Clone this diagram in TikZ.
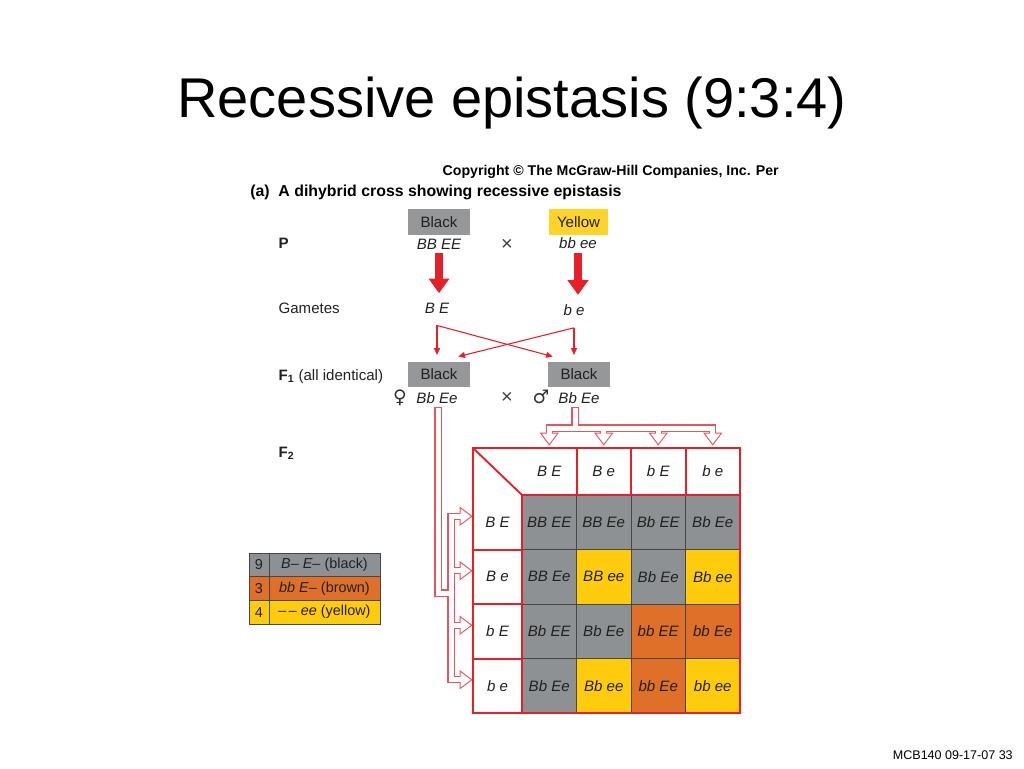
\documentclass[tikz,border=0pt]{standalone}
\usepackage{fontspec}
\setmainfont{Liberation Sans}
\newfontfamily\symfont{DejaVu Sans}
\usetikzlibrary{arrows.meta}

\definecolor{cellgray}{RGB}{142,145,147}
\definecolor{boxgray}{RGB}{150,151,153}
\definecolor{boxyellow}{RGB}{255,212,40}
\definecolor{cellyellow}{RGB}{254,204,12}
\definecolor{cellbrown}{RGB}{222,112,42}
\definecolor{linered}{RGB}{228,32,40}
\definecolor{hollowred}{RGB}{226,86,96}
\definecolor{gridline}{RGB}{70,70,70}

% hollow branched arrows, drawn in two passes
\newcommand{\hollowtrees}[1]{%
  \draw[#1] (mstem) -- (mstem |- tbar);
  \draw[#1] (t1 |- tbar) -- (t4 |- tbar);
  \foreach \t in {t1,t2,t3,t4} \draw[#1] (\t |- tbar) -- ++(0,7);
  \draw[#1] (fstem) |- (lturn);
  \draw[#1] (lbar |- v1) -- (lbar |- v4);
  \foreach \v in {v1,v2,v3,v4} \draw[#1] (lbar |- \v) -- ++(11,0);
}
\newcommand{\hollowheads}[1]{%
  \foreach \t in {t1,t2,t3,t4} \path[#1] (\t) -- ++(-7.5,-10) -- ++(15,0) -- cycle;
  \foreach \v in {v1,v2,v3,v4} \path[#1] (\v) -- ++(-10,-7.5) -- ++(0,15) -- cycle;
}

\begin{document}
\begin{tikzpicture}[x=0.75pt,y=-0.75pt,
  txt/.style={font=\fontsize{11.3}{13}\selectfont, inner sep=1pt, text=black!87},
  geno/.style={txt, font=\fontsize{11.3}{13}\selectfont\itshape},
  cross/.style={txt, font=\fontsize{15}{15}\selectfont, text=black!75},
  sex/.style={txt, font=\fontsize{14}{14}\selectfont\symfont, text=black!80},
  rowname/.style={txt, anchor=base west},
  phenobox/.style={txt, minimum width=46.5pt, minimum height=19pt, inner sep=0pt},
  cell/.style={geno, draw=gridline, line width=0.4pt, minimum size=40.9pt, inner sep=0pt},
  headcell/.style={geno, minimum width=40.9pt, minimum height=35.25pt, inner sep=0pt},
  rowcell/.style={geno, minimum width=36.75pt, minimum height=40.9pt, inner sep=0pt},
  punnett/.style={draw=linered, line width=1.4pt},
  bigarrow/.style={draw=linered, line width=6pt, -{Triangle[width=15pt,length=11pt]}},
  thinarrow/.style={draw=linered, line width=0.8pt, -{Triangle[length=5pt,width=4.5pt]}},
  hollowout/.style={draw=hollowred, line width=5.5pt, line cap=rect, line join=miter},
  hollowin/.style={draw=white, line width=3.75pt, line cap=rect, line join=miter},
  headout/.style={draw=hollowred, line width=1.6pt, line join=miter},
  headin/.style={fill=white},
  legnum/.style={txt, font=\fontsize{10.8}{12}\selectfont, draw=gridline, line width=0.5pt,
    minimum width=15pt, minimum height=17.75pt, inner sep=0pt},
  legtext/.style={legnum, minimum width=83.25pt},
]
  \fill[white] (0,0) rectangle (1024,768);
  \useasboundingbox (0,0) rectangle (1024,768);

  \path
  node[anchor=base, font=\fontsize{42}{48}\selectfont] (title) at (512,117)
    {Recessive epistasis (9:3:4)}
  node[anchor=base east, font=\fontsize{10.6}{12}\selectfont\bfseries, inner sep=0pt] (copy) at (779,175)
    {Copyright © The McGraw-Hill Companies, Inc. Per}
  node[anchor=base west, font=\fontsize{11.9}{13}\selectfont\bfseries, inner sep=0pt] (parta) at (250,196)
    {(a)\ \ A dihybrid cross showing recessive epistasis}
  node[rowname, font=\fontsize{11.3}{13}\selectfont\bfseries] (rowP) at (277,248) {P}
  node[rowname] (rowG) at (277,313) {Gametes}
  node[rowname] (rowF1) at (277,380) {\textbf{F\textsubscript{1}} (all identical)}
  node[rowname] (rowF2) at (277,457) {\textbf{F\textsubscript{2}}}
  ;

  % parents and gametes
  \path
  node[phenobox, fill=boxgray] (pblack) at (439,222) {Black}
  node[phenobox, fill=boxyellow, minimum width=44pt] (pyellow) at (578.5,222) {Yellow}
  node[geno] (pBB) at (439,244) {BB EE}
  node[cross] (ptimes) at (507,245) {×}
  node[geno] (pbb) at (578,243) {bb ee}
  node[geno] (gBE) at (437,308) {B E}
  node[geno] (gbe) at (574,310) {b e}
  node[phenobox, fill=boxgray] (fblack) at (439,374.5) {Black}
  node[phenobox, fill=boxgray] (mblack) at (579,374.5) {Black}
  node[sex] (fsym) at (400,398) {♀}
  node[geno] (fgeno) at (437,398) {Bb Ee}
  node[cross] (ftimes) at (507,398) {×}
  node[sex] (msym) at (541,397) {♂}
  node[geno] (mgeno) at (579,398) {Bb Ee}
  ;
  \coordinate (cBE) at ([yshift=-8pt]gBE.south);
  \coordinate (cbe) at ([yshift=-8pt]gbe.south);

  \draw[bigarrow, shorten <=2pt, shorten >=6pt] (pBB.south) -- (pBB.south |- gBE.north);
  \draw[bigarrow, shorten <=2pt, shorten >=6pt] (pbb.south) -- (pbb.south |- gbe.north);

  \path
  (cBE) edge[thinarrow, shorten >=5pt] (cBE |- fblack.north)
  (cBE) edge[thinarrow] ([xshift=3.75pt,yshift=3.75pt]mblack.north west)
  (cbe) edge[thinarrow, shorten >=5pt] (cbe |- mblack.north)
  (cbe) edge[thinarrow] ([xshift=-9pt,yshift=3.75pt]fblack.north east)
  ;

  % F2 square
  \foreach \row [count=\i] in {%
      {BB EE/cellgray, BB Ee/cellgray, Bb EE/cellgray, Bb Ee/cellgray},
      {BB Ee/cellgray, BB ee/cellyellow, Bb Ee/cellgray, Bb ee/cellyellow},
      {Bb EE/cellgray, Bb Ee/cellgray, bb EE/cellbrown, bb Ee/cellbrown},
      {Bb Ee/cellgray, Bb ee/cellyellow, bb Ee/cellbrown, bb ee/cellyellow}}
    \foreach \gt/\col [count=\j] in \row
      \node[cell, fill=\col] (c\i\j) at ({522+54.5*(\j-0.5)},{495+54.5*(\i-0.5)}) {\gt};
  \foreach \gm [count=\j] in {B E, B e, b E, b e}
    \node[headcell] (hd\j) at ({522+54.5*(\j-0.5)},471.5) {\gm};
  \foreach \gm [count=\i] in {B E, B e, b E, b e}
    \node[rowcell] (r\i) at (497.5,{495+54.5*(\i-0.5)}) {\gm};

  \draw[punnett] (473,448) rectangle (740,713);
  \draw[punnett] (473,448) -- (522,495) -- (740,495);
  \draw[punnett] (522,495) -- (522,713);
  \foreach \x in {577,631,686} \draw[punnett] (\x,448) -- (\x,495);
  \foreach \y in {550,604,659} \draw[punnett] (473,\y) -- (522,\y);

  % hollow arrows from the F1 parents
  \foreach \j in {1,...,4} \coordinate (t\j) at ([yshift=3pt]hd\j.north);
  \foreach \i in {1,...,4} \coordinate (v\i) at ([xshift=-1.5pt,yshift=4.5pt]r\i.west);
  \coordinate (fstem) at ([xshift=0.75pt,yshift=-4pt]fgeno.south);
  \coordinate (mstem) at ([xshift=-3pt,yshift=-4pt]mgeno.south);
  \coordinate (tbar) at (0,428);
  \coordinate (lbar) at (451,0);
  \coordinate (lturn) at (451,593);
  \hollowtrees{hollowout}
  \hollowheads{headout}
  \hollowheads{headin}
  \hollowtrees{hollowin}

  % legend
  \path
  node[legnum, fill=cellgray] (n9) at (259,564.8) {9}
  node[legtext, fill=cellgray] (l9) at (324.5,564.8) {\textit{B– E–} (black)}
  node[legnum, fill=cellbrown] (n3) at (259,588.5) {3}
  node[legtext, fill=cellbrown] (l3) at (324.5,588.5) {\textit{bb E–} (brown)}
  node[legnum, fill=cellyellow] (n4) at (259,612.2) {4}
  node[legtext, fill=cellyellow] (l4) at (324.5,612.2) {\textit{–\,– ee} (yellow)}
  ;

  \node[anchor=base east, font=\fontsize{9.4}{11}\selectfont, inner sep=0pt] (foot) at (1013,759)
    {MCB140 09-17-07 33};
\end{tikzpicture}
\end{document}
